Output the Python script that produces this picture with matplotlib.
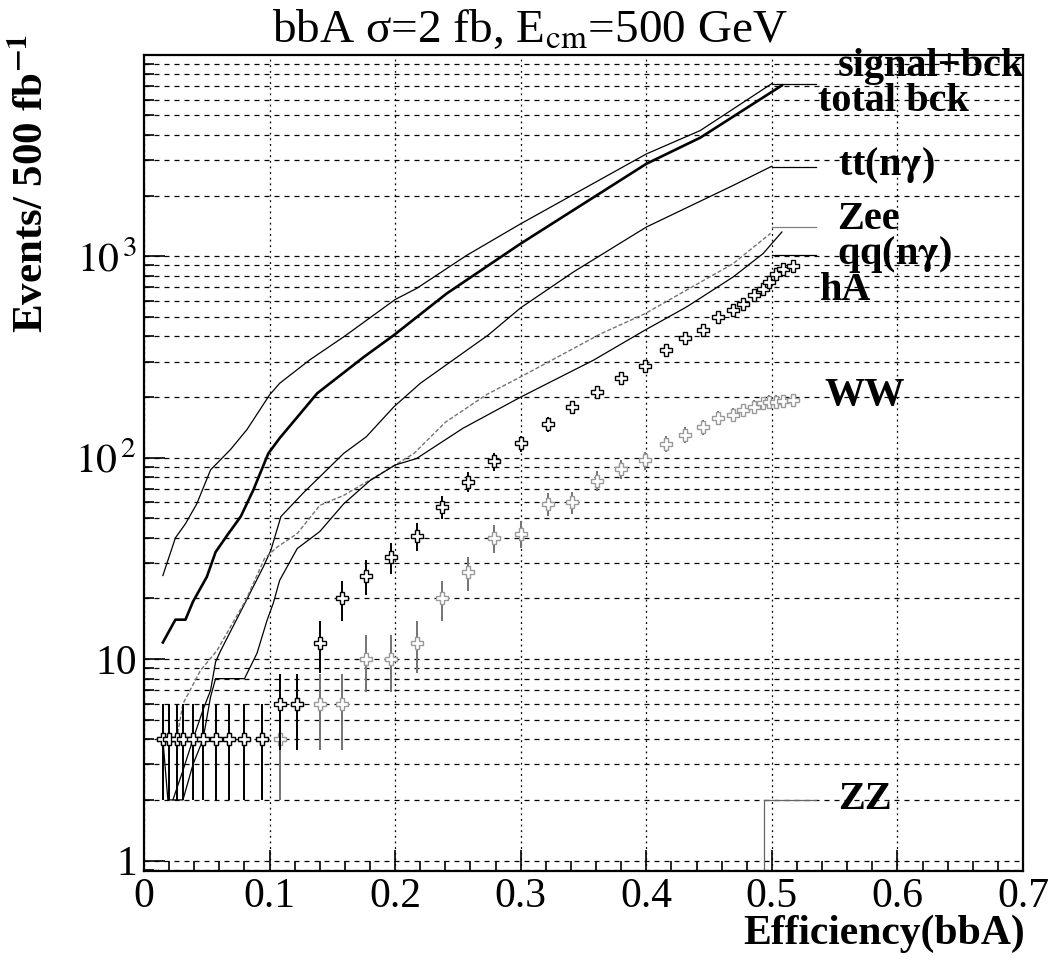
import numpy as np
import matplotlib
matplotlib.use('Agg')
import matplotlib.pyplot as plt
from matplotlib.ticker import FixedLocator, MultipleLocator, NullFormatter, LogLocator

# curves: efficiency (x) vs number of events (y)
eff_sb = [0.015, 0.025, 0.033, 0.042, 0.053, 0.069, 0.082, 0.100, 0.108, 0.132, 0.159,
          0.200, 0.217, 0.257, 0.300, 0.400, 0.443, 0.500]
n_sb = [26, 40, 47, 59, 87, 110, 138, 205, 234, 306, 398, 610, 692, 1011, 1450, 3220, 4210, 7200]

eff_bck = [0.015, 0.025, 0.033, 0.039, 0.050, 0.057, 0.066, 0.077, 0.087, 0.099, 0.108, 0.138,
           0.175, 0.199, 0.241, 0.300, 0.400, 0.443, 0.508]
n_bck = [12.1, 15.7, 15.7, 19.3, 25.6, 34, 41, 51, 69, 105, 125, 209, 316, 406, 653, 1156,
         2877, 3880, 7050]

eff_tt = [0.023, 0.031, 0.039, 0.047, 0.053, 0.057, 0.061, 0.081, 0.095, 0.101, 0.109, 0.127,
          0.159, 0.177, 0.199, 0.220, 0.274, 0.300, 0.342, 0.400, 0.469, 0.500]
n_tt = [2, 2.8, 4, 5.6, 7, 9.7, 11, 19.3, 28.7, 34.7, 51, 67, 105, 127, 179, 234, 406, 555,
        836, 1396, 2245, 2800]

eff_zee = [0.026, 0.031, 0.045, 0.058, 0.081, 0.096, 0.106, 0.122, 0.140, 0.159, 0.188, 0.200,
           0.215, 0.240, 0.273, 0.300, 0.364, 0.399, 0.469, 0.499]
n_zee = [4, 6, 8.8, 11, 19.6, 31.6, 36, 42, 58, 65, 83, 92, 105, 150, 206, 252, 413, 519, 918, 1300]

eff_qq = [0.015, 0.019, 0.031, 0.039, 0.047, 0.053, 0.057, 0.080, 0.090, 0.098, 0.103, 0.108,
          0.122, 0.140, 0.159, 0.180, 0.200, 0.217, 0.254, 0.300, 0.358, 0.399, 0.432, 0.469,
          0.493, 0.508]
n_qq = [4, 2, 2, 3, 4, 6.5, 8, 8, 10.7, 15.6, 19, 24.6, 35.4, 43, 59, 77, 92, 99, 140, 200,
        305, 430, 560, 788, 1031, 1320]

eff_zz = [0.494, 0.494]
n_zz = [0.1, 2]

# points with sqrt(N) errors
eff_pts = [0.015, 0.020, 0.026, 0.031, 0.039, 0.047, 0.057, 0.068, 0.080, 0.094, 0.108, 0.122,
           0.140, 0.158, 0.177, 0.197, 0.217, 0.237, 0.258, 0.279, 0.300, 0.322, 0.341, 0.361,
           0.380, 0.399, 0.416, 0.431, 0.445, 0.457, 0.469, 0.477, 0.486, 0.493, 0.498, 0.503,
           0.509, 0.517]
n_hA = [4, 4, 4, 4, 4, 4, 4, 4, 4, 4, 6, 6, 12, 20, 26, 32, 41, 57, 76, 96, 118, 147, 178, 212,
        250, 285, 341, 393, 432, 500, 540, 582, 640, 690, 745, 820, 860, 890]
n_WW = [4, 4, 4, 4, 4, 4, 4, 4, 4, 4, 4, 6, 6, 6, 10, 10, 12, 20, 27, 40, 42, 59, 60, 77,
        88, 97, 117, 130, 142, 158, 163, 172, 179, 186, 190, 190, 192, 194]

# curve labels and their leader lines
lab_names = ['signal+bck', 'total bck', r'tt(n$\mathbf{\gamma}$)', 'Zee', r'qq(n$\mathbf{\gamma}$)',
             'hA', 'WW', 'ZZ']
lab_x = [0.5527, 0.5367, 0.5527, 0.552, 0.552, 0.538, 0.542, 0.5527]
lab_y = [8800, 5900, 2800, 1530, 1020, 678, 204, 2]
lead_y = [7200, 2790, 1400, 1015, 2]
lead_x0 = [0.5, 0.5, 0.5, 0.5, 0.494]
lead_col = ['k', 'k', '0.5', 'k', '0.4']

xticks = [0, 0.1, 0.2, 0.3, 0.4, 0.5, 0.6, 0.7]
xtick_labels = ['0', '0.1', '0.2', '0.3', '0.4', '0.5', '0.6', '0.7']
yticks = [1, 10, 100, 1000]
ytick_labels = ['1', '10', r'$10^{\,2}$', r'$10^{\,3}$']

plt.rcParams['font.family'] = ['Liberation Serif', 'DejaVu Serif']
plt.rcParams['mathtext.fontset'] = 'stix'

fig = plt.figure(figsize=(10.59, 9.63), dpi=100)
ax = fig.add_axes([0.136, 0.0955, 0.830, 0.847])
ax.set_yscale('log')
ax.set_xlim(0, 0.7)
ax.set_ylim(0.887, 9940)

ax.plot(eff_sb, n_sb, color='k', lw=0.9)
ax.plot(eff_bck, n_bck, color='k', lw=1.9)
ax.plot(eff_tt, n_tt, color='k', lw=0.9)
ax.plot(eff_zee, n_zee, color='0.45', lw=1.0, ls=(0, (3, 1.5)))
ax.plot(eff_qq, n_qq, color='k', lw=0.9)
ax.plot(eff_zz, n_zz, color='0.4', lw=0.9)

ax.errorbar(eff_pts, n_WW, yerr=np.sqrt(n_WW), fmt='P', ms=9, mfc='white', mec='0.6',
            mew=1, ecolor='0.45', elinewidth=1.4, capsize=0, zorder=3)
ax.errorbar(eff_pts, n_hA, yerr=np.sqrt(n_hA), fmt='P', ms=9, mfc='white', mec='k',
            mew=1, ecolor='k', elinewidth=1.4, capsize=0, zorder=4)

for y0, x0, c in zip(lead_y, lead_x0, lead_col):
    ax.plot([x0, 0.5355], [y0, y0], color=c, lw=0.9)
for s, x, y in zip(lab_names, lab_x, lab_y):
    ax.text(x, y, s, fontsize=29, fontweight='bold', ha='left', va='center', clip_on=False,
            zorder=6)

# axes style
ax.yaxis.set_major_locator(FixedLocator(yticks))
ax.set_yticklabels(ytick_labels)
ax.yaxis.set_minor_locator(LogLocator(base=10, subs=np.arange(2, 10)))
ax.yaxis.set_minor_formatter(NullFormatter())
ax.xaxis.set_major_locator(FixedLocator(xticks))
ax.set_xticklabels(xtick_labels)
ax.xaxis.set_minor_locator(MultipleLocator(0.02))
ax.tick_params(which='both', direction='in', top=False, right=False, labelsize=30, width=1.2)
ax.tick_params(which='major', length=15, pad=5)
ax.tick_params(which='minor', length=7)
ax.set_axisbelow(True)
ax.grid(axis='y', which='both', color='k', lw=0.9, ls=(0, (4, 4)))
ax.grid(axis='x', which='major', color='k', lw=0.9, ls=(0, (1.5, 3)))
for sp in ax.spines.values():
    sp.set_linewidth(1.6)

fig.text(0.5, 0.992, r'bbA σ=2 fb, E$_{\rm cm}$=500 GeV', fontsize=34, ha='center', va='top')
fig.text(1025 / 1059, 0.02, 'Efficiency(bbA)', fontsize=30, fontweight='bold',
         ha='right', va='baseline')
fig.text(0.03, 0.965, r'Events/ 500 fb$^{\mathbf{-1}}$', fontsize=31, fontweight='bold',
         rotation=90, ha='center', va='top')

fig.savefig('out.png', dpi=100)
